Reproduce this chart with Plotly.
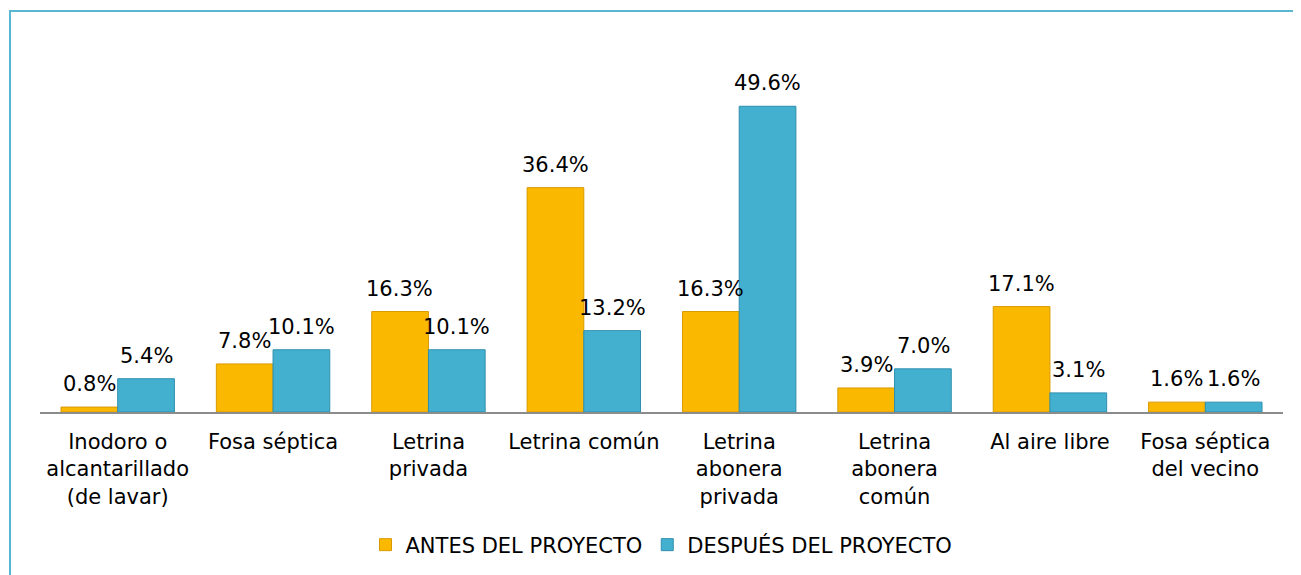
import plotly.graph_objects as go

categories = ["Inodoro o<br>alcantarillado<br>(de lavar)", "Fosa séptica", "Letrina<br>privada",
              "Letrina común", "Letrina<br>abonera<br>privada", "Letrina<br>abonera<br>común",
              "Al aire libre", "Fosa séptica<br>del vecino"]
antes = [0.8, 7.8, 16.3, 36.4, 16.3, 3.9, 17.1, 1.6]
despues = [5.4, 10.1, 10.1, 13.2, 49.6, 7.0, 3.1, 1.6]
series_names = ["ANTES DEL PROYECTO", "DESPUÉS DEL PROYECTO"]

FONT = "DejaVu Sans, Verdana, sans-serif"
yellow = "#FBB800"
blue = "#44B0D0"

fig = go.Figure()
fig.add_trace(go.Bar(x=categories, y=antes, name=series_names[0],
                     marker=dict(color=yellow, line=dict(color="#D99A00", width=1))))
fig.add_trace(go.Bar(x=categories, y=despues, name=series_names[1],
                     marker=dict(color=blue, line=dict(color="#2F8FAE", width=1))))

for vals, shift in ((antes, -28.5), (despues, 28.5)):
    for c, v in zip(categories, vals):
        fig.add_annotation(x=c, y=v, text=f"{v:.1f}%", showarrow=False,
                           xshift=shift, yshift=23, yanchor="middle",
                           font=dict(family=FONT, size=21, color="#000"))

# page body has an 8px margin; figure coordinates are offset accordingly
L, T, W, H = 32, 65, 1243, 339
fig.add_shape(type="rect", xref="paper", yref="paper",
              x0=(2 - L) / W, x1=(1320 - L) / W,
              y0=(T + H - 600) / H, y1=(T + H - 3) / H,
              line=dict(color="#5AB7D2", width=2), fillcolor="rgba(0,0,0,0)", layer="below")

fig.update_layout(
    width=1301, height=575,
    margin=dict(l=L, r=1301 - L - W, t=T, b=575 - T - H),
    paper_bgcolor="white", plot_bgcolor="white",
    barmode="group", bargap=0.27, bargroupgap=0,
    font=dict(family=FONT, size=21, color="#000"),
    showlegend=True,
    legend=dict(orientation="h", x=0.5, xanchor="center", y=(T + H - 537) / H, yanchor="middle",
                font=dict(family=FONT, size=21, color="#000"), itemwidth=30, traceorder="normal"),
    xaxis=dict(showline=True, linecolor="#8C8C8C", linewidth=1.5, ticks="",
               ticklabelstandoff=10,
               tickfont=dict(family=FONT, size=21, color="#000"), showgrid=False),
    yaxis=dict(range=[0, 55], visible=False, showgrid=False),
)

fig.write_html("out.html")
